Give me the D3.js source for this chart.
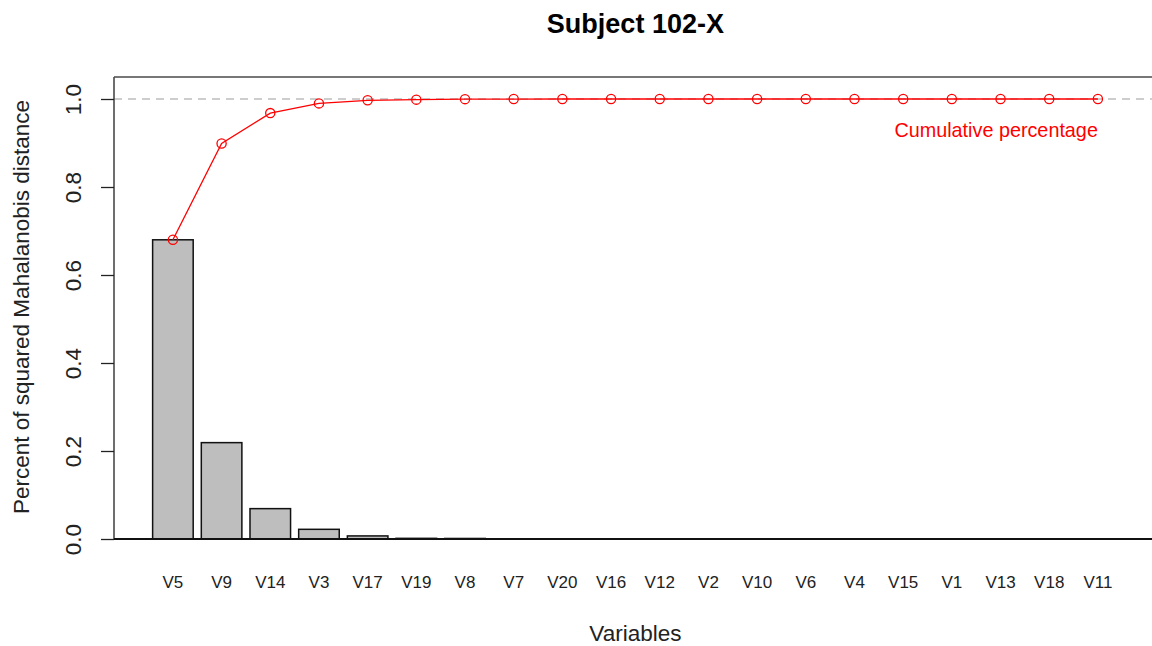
<!DOCTYPE html>
<html><head><meta charset="utf-8">
<script src="https://cdn.jsdelivr.net/npm/d3@7"></script>
<style>html,body{margin:0;padding:0;background:#fff;overflow:hidden}text{font-family:"Liberation Sans",Arial,sans-serif}</style>
</head><body><svg id="c" width="1152" height="646"></svg>
<script>
const title = "Subject 102-X";
const variables = ["V5","V9","V14","V3","V17","V19","V8","V7","V20","V16","V12","V2","V10","V6","V4","V15","V1","V13","V18","V11"];
const percent = [0.680,0.219,0.069,0.022,0.0070,0.0015,0.0012,0.0002,0.0001,0.0001,0,0,0,0,0,0,0,0,0,0];
const cumulative = [0.680,0.899,0.968,0.990,0.997,0.9985,0.9997,0.9999,1.0,1.0,1.0,1.0,1.0,1.0,1.0,1.0,1.0,1.0,1.0,1.0];
const yTicks = [0,0.2,0.4,0.6,0.8,1.0];
const yTickLabels = ["0.0","0.2","0.4","0.6","0.8","1.0"];

const svg = d3.select("#c");
const n = variables.length;
const FF = '"Liberation Sans",Arial,sans-serif';
// R barplot geometry: width 1, space 0.2
const x = d3.scaleLinear().domain([-0.752, 24.952]).range([114, 114 + 25.704*40.57]);
const y = d3.scaleLinear().domain([0, 1.05]).range([539, 77]);
const left = i => 0.2 + 1.2*i, center = i => 0.7 + 1.2*i;

// dashed reference
svg.append("line").attr("x1", x(-0.752)).attr("x2", 1152).attr("y1", y(1)).attr("y2", y(1))
  .attr("stroke", "#bdbdbd").attr("stroke-width", 1.3).attr("stroke-dasharray", "8,6");

// bars
svg.selectAll("rect.bar").data(percent).join("rect").attr("class","bar")
  .attr("x", (d,i) => x(left(i))).attr("width", x(1) - x(0))
  .attr("y", d => y(d)).attr("height", d => y(0) - y(d))
  .attr("fill", "#bebebe").attr("stroke", "#111").attr("stroke-width", 1.5);

// box: top, left, bottom
const bx0 = x(-0.752);
svg.append("line").attr("x1", bx0).attr("x2", 1152).attr("y1", y(1.05)).attr("y2", y(1.05)).attr("stroke","#4a4a4a").attr("stroke-width",1.6);
svg.append("line").attr("x1", bx0).attr("x2", bx0).attr("y1", y(1.05)).attr("y2", y(0)).attr("stroke","#4a4a4a").attr("stroke-width",1.6);
svg.append("line").attr("x1", bx0).attr("x2", 1152).attr("y1", y(0)).attr("y2", y(0)).attr("stroke","#111").attr("stroke-width",2);

// y axis
const yAxis = d3.axisLeft(y).tickValues(yTicks).tickFormat((d,i) => yTickLabels[i]).tickSize(13).tickPadding(0);
const ga = svg.append("g").attr("transform", `translate(${bx0},0)`).call(yAxis);
ga.select(".domain").remove();
ga.selectAll(".tick line").attr("stroke", "#222").attr("stroke-width", 1.3);
ga.selectAll(".tick text").attr("x", null).attr("dy", null).attr("text-anchor","middle")
  .attr("transform", `translate(${81-bx0},0) rotate(-90)`)
  .attr("font-size", 22.5).attr("fill", "#222").style("font-family", FF);

// x labels
const xb = d3.scaleBand().domain(variables).range([x(0.1), x(24.1)]).paddingInner(0.2/1.2).paddingOuter(0.1/1.2);
const gx = svg.append("g").attr("transform", "translate(0,539)")
  .call(d3.axisBottom(xb).tickSize(0).tickPadding(0));
gx.select(".domain").remove();
gx.selectAll(".tick text").attr("y", 49).attr("dy", null)
  .attr("font-size", 17).attr("fill", "#222").style("font-family", FF);

// cumulative line
const line = d3.line().x((d,i) => x(center(i))).y(d => y(d));
svg.append("path").datum(cumulative).attr("d", line).attr("fill","none").attr("stroke","#ff0000").attr("stroke-width",1.3);
svg.selectAll("circle.pt").data(cumulative).join("circle").attr("class","pt")
  .attr("cx", (d,i) => x(center(i))).attr("cy", d => y(d)).attr("r", 4.6)
  .attr("fill","none").attr("stroke","#ff0000").attr("stroke-width",1.3);

svg.append("text").attr("x", x(center(n-1))).attr("y", 136.5).attr("text-anchor","end")
  .attr("font-size", 19.8).attr("fill", "#ff0000").text("Cumulative percentage");

// titles
const cx = (x(-0.752) + x(24.952)) / 2;
svg.append("text").attr("x", cx).attr("y", 33).attr("text-anchor","middle")
  .attr("font-size", 27).attr("font-weight","bold").attr("fill","#000").text(title);
svg.append("text").attr("x", cx).attr("y", 641).attr("text-anchor","middle")
  .attr("font-size", 22.5).attr("fill","#222").text("Variables");
svg.append("text").attr("transform", `translate(29,${(y(0)+y(1.05))/2 - 1}) rotate(-90)`).attr("text-anchor","middle")
  .attr("font-size", 22.5).attr("fill","#222").text("Percent of squared Mahalanobis distance");
</script></body></html>
